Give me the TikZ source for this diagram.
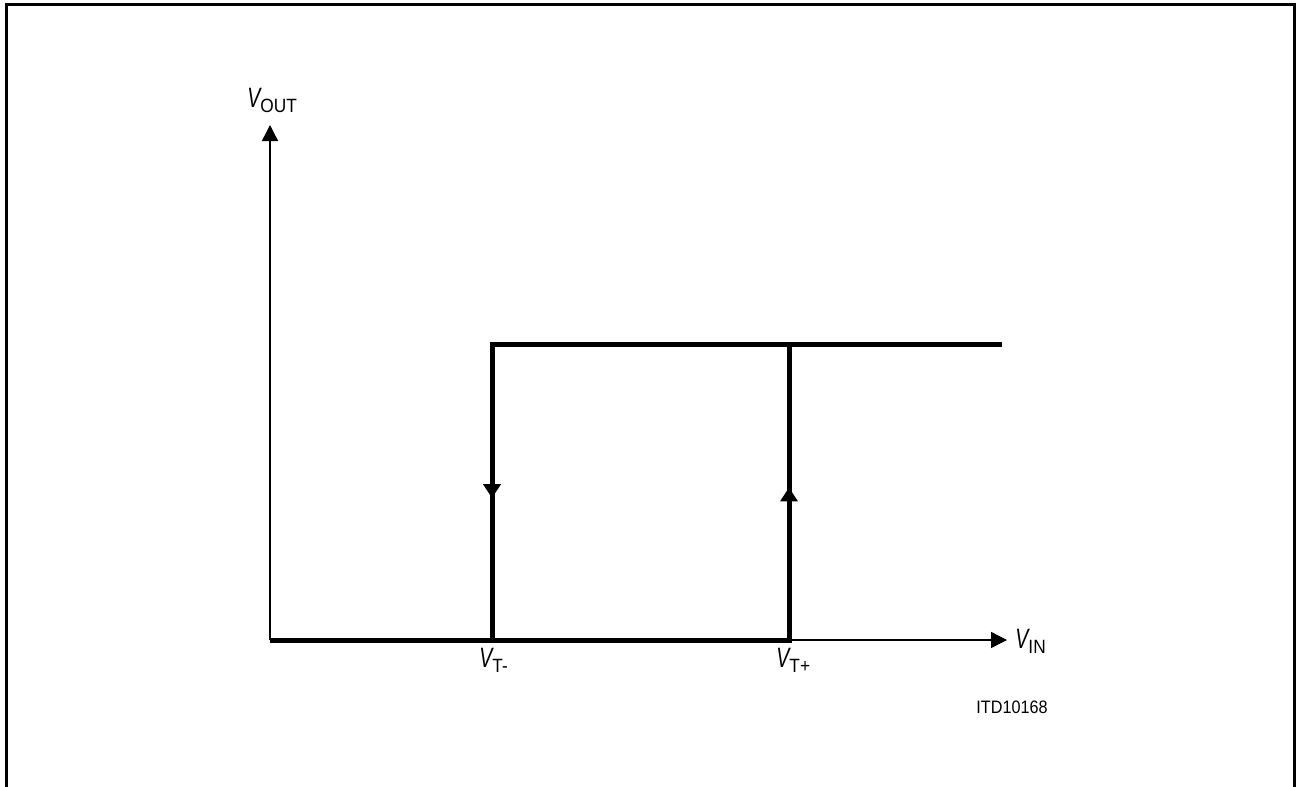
\documentclass[tikz,border=0pt]{standalone}
\usepackage{fontspec}
\setmainfont{Liberation Sans}
\usetikzlibrary{arrows.meta,decorations.markings,positioning}

\newcommand{\vlab}[1]{\scalebox{0.7}[1]{\fontsize{14}{15}\selectfont\itshape V}\raisebox{-2.5pt}{\scalebox{0.9}[1]{\fontsize{9.6}{10}\selectfont #1}}}

\begin{document}
\begin{tikzpicture}[%
    x=0.5pt,
    y=-0.5pt,
    >={Triangle[length=8pt,width=8pt]},
    axis/.style={line width=0.7pt},
    curve/.style={line width=2.5pt},
    flow/.style={postaction={decorate},decoration={markings,
        mark=at position #1 with {\arrow{Triangle[length=7pt,width=8.5pt]}}}},
    lbl/.style={inner sep=0pt,anchor=base west}
    ]

    \useasboundingbox (0,0) rectangle (1297,787);
    \draw[line width=1.5pt] (6,800) -- (6,4) -- (1294,4) -- (1294,800);

    \coordinate (o) at (270,640);
    \coordinate (ytip) at (270,125);
    \coordinate (xtip) at (1007,640);
    \coordinate (tm) at (492,640);
    \coordinate (tmtop) at (492,344);
    \coordinate (tp) at (789,640);
    \coordinate (tptop) at (789,344);
    \coordinate (hi) at (1002,344);

    \draw[axis,->] (o) -- (ytip);
    \draw[axis,->] (o) -- (xtip);

    \draw[curve,flow=0.824] (o) -- (tp) -- (tptop);
    \draw[curve,flow=0.824] (hi) -- (tmtop) -- (tm);

    \node[lbl] (vout) at (247,107) {\vlab{OUT}};
    \node[lbl] (vin) at (1015,648) {\vlab{IN}};
    \node[lbl] (vtm) at (479,667) {\vlab{T-}};
    \node[lbl] (vtp) at (776,667) {\vlab{T+}};
    \node[lbl] (code) at (976,713) {\scalebox{0.9}[1]{\fontsize{9}{10}\selectfont ITD10168}};

\end{tikzpicture}
\end{document}
